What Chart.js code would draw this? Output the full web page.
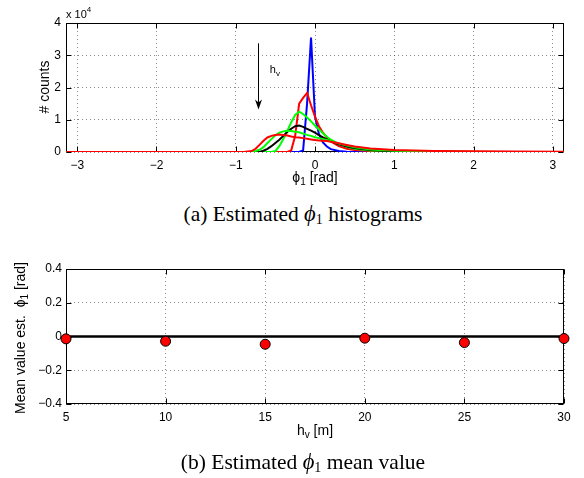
<!DOCTYPE html>
<html>
<head>
<meta charset="utf-8">
<script src="https://cdn.jsdelivr.net/npm/chart.js@4.4.1/dist/chart.umd.min.js"></script>
<style>
  body { margin:0; background:#fff; width:584px; height:478px; position:relative; overflow:hidden; }
  canvas { position:absolute; left:0; }
  #histChart { top:0; }
  #meanChart { top:240px; }
  .cap { position:absolute; left:54px; width:498px; text-align:center; font-family:"Liberation Serif","Times New Roman",serif; font-size:21.5px; color:#000; line-height:22px; }
  .cap i { font-size:22.5px; }
  .cap sub { font-size:14px; vertical-align:-3px; line-height:0; }
</style>
</head>
<body>
<canvas id="histChart" width="584" height="200"></canvas>
<div class="cap" style="top:203px">(a) Estimated <i>ϕ</i><sub>1</sub> histograms</div>
<canvas id="meanChart" width="584" height="214"></canvas>
<div class="cap" style="top:451px">(b) Estimated <i>ϕ</i><sub>1</sub> mean value</div>
<script>
// histogram bins (rad) and counts in units of 10^4
const phiGrid = [-3.14,-1.0,-0.9,-0.8,-0.75,-0.7,-0.65,-0.6,-0.55,-0.5,-0.45,-0.4,-0.35,-0.3,-0.25,-0.2,-0.15,-0.1,-0.05,0,0.05,0.1,0.15,0.2,0.3,0.4,0.5,0.7,1.0,1.5,2.0,2.5,3.14];
const histBlue   = [0,0,0,0,0,0,0,0,0,0,0,0,0,0,0,0,0.05,1.5,3.55,1.1,0.55,0.3,0.17,0.09,0.03,0.01,0,0,0,0,0,0,0];
const histRed1   = [0,0,0,0,0,0,0,0,0,0,0,0,0,0.05,0.5,1.5,1.68,1.83,1.45,1.1,0.8,0.6,0.45,0.33,0.18,0.1,0.06,0.03,0.01,0,0,0,0];
const histGreen1 = [0,0,0,0,0,0,0,0,0,0.03,0.18,0.4,0.65,0.92,1.15,1.25,1.18,1.07,0.95,0.82,0.7,0.58,0.47,0.38,0.25,0.16,0.1,0.05,0.02,0.005,0,0,0];
const histBlack  = [0,0,0,0,0,0,0.04,0.1,0.18,0.28,0.38,0.5,0.62,0.72,0.8,0.82,0.78,0.72,0.66,0.6,0.52,0.45,0.39,0.33,0.24,0.17,0.12,0.06,0.02,0.005,0,0,0];
const histGreen2 = [0,0,0,0,0.03,0.07,0.15,0.28,0.4,0.52,0.6,0.64,0.66,0.65,0.63,0.61,0.57,0.53,0.5,0.46,0.43,0.4,0.37,0.34,0.26,0.2,0.15,0.08,0.04,0.015,0.005,0,0];
const histRed2   = [0,0,0,0.03,0.1,0.22,0.35,0.45,0.5,0.53,0.54,0.53,0.51,0.48,0.46,0.45,0.43,0.41,0.39,0.37,0.36,0.35,0.34,0.32,0.27,0.22,0.17,0.11,0.06,0.03,0.02,0.015,0.01];
const phiTicks = [-3,-2,-1,0,1,2,3];
const countTicks = [0,1,2,3,4];

// mean value plot
const hvVals = [5,10,15,20,25,30];
const meanPhi = [-0.014,-0.028,-0.046,-0.01,-0.036,-0.012];
const refLine = [0,0,0,0,0,0];
const hvTicks = [5,10,15,20,25,30];
const meanTicks = [-0.4,-0.2,0,0.2,0.4];

const SANS = '"Liberation Sans", Arial, Helvetica, sans-serif';
const minus = v => String(v).replace('-', '\u2212');

function rich(ctx, segs, x, y, rot, align) {
  ctx.save();
  ctx.translate(x, y);
  if (rot) ctx.rotate(rot);
  ctx.fillStyle = '#000';
  ctx.textBaseline = 'middle';
  ctx.textAlign = 'left';
  let w = 0;
  segs.forEach(s => { ctx.font = s.size + 'px ' + SANS; s.w = ctx.measureText(s.t).width; w += s.w; });
  let cx = align === 'left' ? 0 : -w / 2;
  segs.forEach(s => { ctx.font = s.size + 'px ' + SANS; ctx.fillText(s.t, cx, s.dy || 0); cx += s.w; });
  ctx.restore();
}

function frameAndTicks(chart) {
  const {ctx, chartArea: a, scales} = chart;
  const L = Math.round(a.left) + 0.5, R = Math.round(a.right) - 0.5;
  const T = Math.round(a.top) + 0.5, B = Math.round(a.bottom) - 0.5;
  ctx.save();
  ctx.strokeStyle = '#000';
  ctx.lineWidth = 1;
  ctx.strokeRect(L, T, R - L, B - T);
  ctx.beginPath();
  scales.x.ticks.forEach(t => {
    const px = Math.round(scales.x.getPixelForValue(t.value)) + 0.5;
    ctx.moveTo(px, B); ctx.lineTo(px, B - 5);
    ctx.moveTo(px, T); ctx.lineTo(px, T + 5);
  });
  scales.y.ticks.forEach(t => {
    const py = Math.round(scales.y.getPixelForValue(t.value)) + 0.5;
    ctx.moveTo(L, py); ctx.lineTo(L + 5, py);
    ctx.moveTo(R, py); ctx.lineTo(R - 5, py);
  });
  ctx.stroke();
  ctx.restore();
}

const gridOpts = { color: 'rgba(0,0,0,0.45)', drawTicks: false };
const borderOpts = { display: false, dash: [1, 3] };
const tickFont = { family: SANS, size: 12 };

const histPlugin = {
  id: 'histDecor',
  beforeDatasetsDraw: frameAndTicks,
  afterDraw(chart) {
    const {ctx, scales} = chart;
    rich(ctx, [{t:'\u03D5', size:14}, {t:'1', size:10, dy:4}, {t:' [rad]', size:14}], 315, 178);
    rich(ctx, [{t:'# counts', size:14}], 45, 87, -Math.PI / 2);
    rich(ctx, [{t:'x 10', size:11}, {t:'4', size:8, dy:-5}], 66, 15, 0, 'left');
    // h_v arrow
    const ax = Math.round(scales.x.getPixelForValue(-0.714)) + 0.5;
    const y1 = scales.y.getPixelForValue(3.37), y2 = scales.y.getPixelForValue(1.32);
    ctx.save();
    ctx.strokeStyle = '#000'; ctx.fillStyle = '#000'; ctx.lineWidth = 1;
    ctx.beginPath(); ctx.moveTo(ax, y1); ctx.lineTo(ax, y2 - 4); ctx.stroke();
    ctx.beginPath(); ctx.moveTo(ax, y2); ctx.lineTo(ax - 3.5, y2 - 10); ctx.lineTo(ax, y2 - 7); ctx.lineTo(ax + 3.5, y2 - 10); ctx.closePath(); ctx.fill();
    ctx.restore();
    rich(ctx, [{t:'h', size:11}, {t:'v', size:8, dy:4}], scales.x.getPixelForValue(-0.57), scales.y.getPixelForValue(2.55), 0, 'left');
  }
};

const meanPlugin = {
  id: 'meanDecor',
  beforeDatasetsDraw: frameAndTicks,
  afterDraw(chart) {
    const {ctx} = chart;
    rich(ctx, [{t:'h', size:14}, {t:'v', size:10, dy:4}, {t:' [m]', size:14}], 315, 191);
    rich(ctx, [{t:'Mean value est.  \u03D5', size:14}, {t:'1', size:10, dy:4}, {t:' [rad]', size:14}], 21, 98, -Math.PI / 2);
  }
};

const colors = ['#0000ff', '#ff0000', '#00ff00', '#000000', '#00ff00', '#ff0000'];
const series = [histBlue, histRed1, histGreen1, histBlack, histGreen2, histRed2];

new Chart(document.getElementById('histChart'), {
  type: 'line',
  data: {
    datasets: series.map((s, i) => ({
      data: s.map((v, k) => ({x: phiGrid[k], y: v})),
      borderColor: colors[i],
      borderWidth: 2,
      pointRadius: 0,
      tension: 0,
      fill: false,
      order: 10 - i
    }))
  },
  options: {
    responsive: false,
    animation: false,
    devicePixelRatio: 1,
    layout: { padding: { top: 23, right: 20, left: 0, bottom: 0 } },
    plugins: { legend: { display: false }, tooltip: { enabled: false } },
    scales: {
      x: {
        type: 'linear', min: -Math.PI, max: Math.PI,
        afterBuildTicks: s => { s.ticks = phiTicks.map(v => ({value: v})); },
        afterFit: s => { s.height = 48; },
        ticks: { font: tickFont, color: '#000', padding: 6, maxRotation: 0, callback: v => minus(v) },
        grid: gridOpts, border: borderOpts
      },
      y: {
        min: 0, max: 4,
        afterBuildTicks: s => { s.ticks = countTicks.map(v => ({value: v})); },
        afterFit: s => { s.width = 66; },
        ticks: { font: tickFont, color: '#000', padding: 5, callback: v => minus(v) },
        grid: gridOpts, border: borderOpts
      }
    }
  },
  plugins: [histPlugin]
});

new Chart(document.getElementById('meanChart'), {
  type: 'line',
  data: {
    labels: hvVals,
    datasets: [
      {
        data: hvVals.map((h, k) => ({x: h, y: meanPhi[k]})),
        showLine: false,
        pointRadius: 5,
        pointBackgroundColor: '#ff0000',
        pointBorderColor: '#000',
        pointBorderWidth: 1,
        clip: false,
        order: 0
      },
      {
        data: hvVals.map((h, k) => ({x: h, y: refLine[k]})),
        borderColor: '#000',
        borderWidth: 2.5,
        pointRadius: 0,
        tension: 0,
        order: 1
      }
    ]
  },
  options: {
    responsive: false,
    animation: false,
    devicePixelRatio: 1,
    layout: { padding: { top: 29, right: 20, left: 0, bottom: 0 } },
    plugins: { legend: { display: false }, tooltip: { enabled: false } },
    scales: {
      x: {
        type: 'linear', min: 5, max: 30,
        afterBuildTicks: s => { s.ticks = hvTicks.map(v => ({value: v})); },
        afterFit: s => { s.height = 50; },
        ticks: { font: tickFont, color: '#000', padding: 6, maxRotation: 0 },
        grid: gridOpts, border: borderOpts
      },
      y: {
        min: -0.4, max: 0.4,
        afterBuildTicks: s => { s.ticks = meanTicks.map(v => ({value: v})); },
        afterFit: s => { s.width = 66; },
        ticks: { font: tickFont, color: '#000', padding: 4, callback: v => minus(Math.round(v * 10) / 10) },
        grid: gridOpts, border: borderOpts
      }
    }
  },
  plugins: [meanPlugin]
});
</script>
</body>
</html>
